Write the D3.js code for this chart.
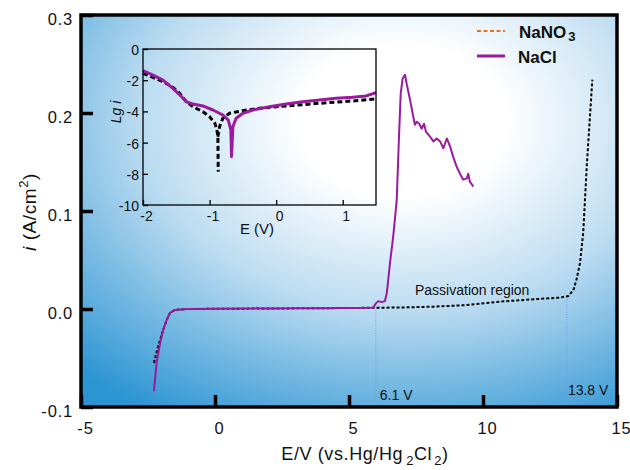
<!DOCTYPE html>
<html><head><meta charset="utf-8">
<script src="https://cdn.jsdelivr.net/npm/d3@7"></script>
<style>body{margin:0;background:#fff;} text{font-family:"Liberation Sans",Arial,sans-serif;fill:#111;}</style>
</head><body><svg id="c" width="630" height="470"></svg>
<script>
// ---------- data ----------
const xTicks = [-5, 0, 5, 10, 15];
const yTicks = [-0.1, 0.0, 0.1, 0.2, 0.3];
const seriesNames = ["NaNO3", "NaCl"];

// main chart: NaCl (purple solid)
const naclE = [-2.28,-2.18,-2.05,-1.93,-1.80,-1.68,-1.49,-1.06,0,1,1.50,1.55,1.62,2,3,3.92,5.0,5.90,6.01,6.09,6.22,6.34,6.41,6.53,6.65,6.78,6.87,6.93,7.00,7.09,7.15,7.28,7.40,7.46,7.53,7.62,7.71,7.80,7.87,8.02,8.15,8.27,8.40,8.52,8.65,8.77,8.89,9.02,9.14,9.26,9.39,9.45,9.51,9.64];
const naclI = [-0.084,-0.055,-0.035,-0.021,-0.011,-0.004,-0.001,0.0,0.0002,0.0004,0.0004,0.0013,0.0004,0.0005,0.0007,0.0008,0.0010,0.0013,0.006,0.008,0.007,0.008,0.016,0.047,0.074,0.111,0.179,0.220,0.235,0.239,0.230,0.213,0.196,0.188,0.191,0.189,0.184,0.189,0.181,0.176,0.171,0.174,0.171,0.164,0.174,0.166,0.155,0.145,0.138,0.132,0.133,0.138,0.130,0.125];

// main chart: NaNO3 (black dotted)
const no3E = [-2.28,-2.12,-1.93,-1.80,-1.68,-1.49,-1.06,0,2,4,6.01,6.90,8.15,9.39,10.63,11.88,12.87,13.18,13.37,13.49,13.62,13.74,13.87,13.99,14.08];
const no3I = [-0.055,-0.038,-0.021,-0.011,-0.004,-0.001,0,0.0002,0.0005,0.0008,0.0013,0.0015,0.0024,0.004,0.0075,0.0099,0.0116,0.0133,0.019,0.030,0.047,0.078,0.145,0.196,0.234];

// guide lines
const guideE = [6.0, 13.13];
const guideI = [0.0013, 0.0125];
const guideLabels = ["6.1 V", "13.8 V"];

// inset: Tafel plots
const insetXTicks = [-2, -1, 0, 1];
const insetYTicks = [0, -2, -4, -6, -8, -10];
const naclInE  = [-2.0,-1.85,-1.70,-1.55,-1.42,-1.35,-1.25,-1.10,-0.95,-0.80,-0.72,-0.68,-0.67,-0.65,-0.60,-0.50,-0.35,-0.10,0.15,0.40,0.65,0.90,1.15,1.35,1.5];
const naclInLg = [-1.39,-1.67,-1.99,-2.52,-3.06,-3.38,-3.53,-3.65,-3.91,-4.23,-4.55,-5.19,-6.9,-4.98,-4.44,-4.12,-3.91,-3.70,-3.53,-3.38,-3.27,-3.16,-3.10,-3.01,-2.80];
const no3InLeftE  = [-2.0,-1.85,-1.70,-1.55,-1.45,-1.35,-1.25,-1.10,-1.0,-0.92,-0.89,-0.875,-0.87];
const no3InLeftLg = [-1.56,-1.82,-2.09,-2.46,-2.84,-3.38,-3.70,-4.02,-4.34,-4.77,-5.19,-5.62,-7.86];
const no3InRightE  = [-0.875,-0.85,-0.80,-0.70,-0.50,-0.25,0.15,0.65,1.15,1.5];
const no3InRightLg = [-5.62,-4.98,-4.44,-4.12,-3.95,-3.80,-3.65,-3.48,-3.33,-3.2];

const zip = (a, b) => a.map((v, k) => [v, b[k]]);

// ---------- setup ----------
const svg = d3.select("#c");
const x = d3.scaleLinear().domain([-5, 15]).range([81, 617]);
const y = d3.scaleLinear().domain([-0.1, 0.3]).range([407, 15]);
const purple = "#9a1a9e";
const FONT = "Liberation Sans, Arial, sans-serif";

const defs = svg.append("defs");
const grad = defs.append("radialGradient").attr("id", "bg")
  .attr("cx", 0.6).attr("cy", 0.27).attr("r", 0.88).attr("fx", 0.6).attr("fy", 0.27);
[[0, "#ffffff"], [0.22, "#ffffff"], [0.55, "#bcdcf1"], [1, "#2b94d3"]].forEach(s =>
  grad.append("stop").attr("offset", s[0]).attr("stop-color", s[1]));

svg.append("rect")
  .attr("x", x(-5)).attr("y", y(0.3))
  .attr("width", x(15) - x(-5)).attr("height", y(-0.1) - y(0.3))
  .attr("fill", "url(#bg)");

// guide lines
guideE.forEach((e, k) => {
  svg.append("line")
    .attr("x1", x(e)).attr("x2", x(e))
    .attr("y1", y(guideI[k])).attr("y2", y(-0.1))
    .attr("stroke", "#6f9fe6").attr("stroke-width", 1).attr("stroke-dasharray", "1,1.5");
});
svg.append("text").attr("x", x(guideE[0]) + 4).attr("y", 400)
  .attr("font-size", 14).text(guideLabels[0]);
svg.append("text").attr("x", x(guideE[1]) + 1).attr("y", 395)
  .attr("font-size", 14).text(guideLabels[1]);
svg.append("text").attr("x", 415).attr("y", 295)
  .attr("font-size", 14).text("Passivation region");

// main curves
const line = d3.line().x(d => x(d[0])).y(d => y(d[1])).curve(d3.curveLinear);
svg.append("path").datum(zip(no3E, no3I)).attr("d", line)
  .attr("fill", "none").attr("stroke", "#000").attr("stroke-width", 2)
  .attr("stroke-dasharray", "3,2");
svg.append("path").datum(zip(naclE, naclI)).attr("d", line)
  .attr("fill", "none").attr("stroke", purple).attr("stroke-width", 2)
  .attr("stroke-linejoin", "round");

// frame
svg.append("rect")
  .attr("x", x(-5)).attr("y", y(0.3))
  .attr("width", x(15) - x(-5)).attr("height", y(-0.1) - y(0.3))
  .attr("fill", "none").attr("stroke", "#000").attr("stroke-width", 3.5);

// axes
const yAxis = svg.append("g").attr("transform", `translate(${x(-5)},0)`)
  .call(d3.axisLeft(y).tickValues(yTicks).tickFormat(d => d.toFixed(1))
    .tickSizeInner(-12).tickSizeOuter(0).tickPadding(8));
yAxis.select(".domain").remove();
yAxis.selectAll(".tick line").attr("stroke", "#000").attr("stroke-width", 3.5);
yAxis.selectAll(".tick text").attr("font-size", 16.5).attr("letter-spacing", 0.8)
  .attr("font-family", FONT).attr("fill", "#111")
  .attr("transform", "translate(0,4)");

const xAxis = svg.append("g").attr("transform", `translate(0,${y(-0.1)})`)
  .call(d3.axisBottom(x).tickValues(xTicks).tickFormat(d => String(d))
    .tickSizeInner(-12).tickSizeOuter(0).tickPadding(15));
xAxis.select(".domain").remove();
xAxis.selectAll(".tick line").attr("stroke", "#000").attr("stroke-width", 3.5);
xAxis.selectAll(".tick text").attr("font-size", 16.5).attr("letter-spacing", 0.8)
  .attr("font-family", FONT).attr("fill", "#111")
  .attr("transform", "translate(4,0)");

// axis titles
const xt = svg.append("text").attr("x", 365).attr("y", 460).attr("text-anchor", "middle")
  .attr("font-size", 18).attr("letter-spacing", 0.6);
xt.append("tspan").text("E/V (vs.Hg/Hg");
xt.append("tspan").attr("font-size", 13).attr("dy", 5).attr("dx", 3).text("2");
xt.append("tspan").attr("dy", -5).text("Cl");
xt.append("tspan").attr("font-size", 13).attr("dy", 5).attr("dx", 2).text("2");
xt.append("tspan").attr("dy", -5).text(")");

const yt = svg.append("text").attr("transform", "translate(36,212) rotate(-90)")
  .attr("text-anchor", "middle").attr("font-size", 19).attr("letter-spacing", 0.6);
yt.append("tspan").attr("font-style", "italic").text("i");
yt.append("tspan").text(" (A/cm");
yt.append("tspan").attr("font-size", 13).attr("dy", -8).text("2");
yt.append("tspan").attr("dy", 8).text(")");

// legend
const lg = svg.append("g");
lg.append("line").attr("x1", 477).attr("x2", 505).attr("y1", 31).attr("y2", 31)
  .attr("stroke", "#e8731c").attr("stroke-width", 2).attr("stroke-dasharray", "4,2.5");
lg.append("line").attr("x1", 477).attr("x2", 505).attr("y1", 56).attr("y2", 56)
  .attr("stroke", purple).attr("stroke-width", 3);
const l1 = lg.append("text").attr("x", 519).attr("y", 38).attr("font-size", 17).attr("font-weight", "bold");
l1.append("tspan").text("NaNO");
l1.append("tspan").attr("font-size", 13).attr("dy", 3).attr("dx", 2).text("3");
lg.append("text").attr("x", 518).attr("y", 63).attr("font-size", 17).attr("font-weight", "bold").text(seriesNames[1]);

// ---------- inset ----------
const ix = d3.scaleLinear().domain([-2, 1.5]).range([143, 376]);
const iy = d3.scaleLinear().domain([-10, 0]).range([205, 49]);
const iline = d3.line().x(d => ix(d[0])).y(d => iy(d[1]));
const ins = svg.append("g");

ins.append("path").datum(zip(no3InLeftE, no3InLeftLg)).attr("d", iline)
  .attr("fill", "none").attr("stroke", "#000").attr("stroke-width", 3).attr("stroke-dasharray", "5,3");
ins.append("path").datum(zip(no3InRightE, no3InRightLg)).attr("d", iline)
  .attr("fill", "none").attr("stroke", "#000").attr("stroke-width", 3).attr("stroke-dasharray", "5,3");
ins.append("path").datum(zip(naclInE, naclInLg)).attr("d", iline)
  .attr("fill", "none").attr("stroke", purple).attr("stroke-width", 3).attr("stroke-linejoin", "round");

ins.append("rect").attr("x", ix(-2)).attr("y", iy(0))
  .attr("width", ix(1.5) - ix(-2)).attr("height", iy(-10) - iy(0))
  .attr("fill", "none").attr("stroke", "#000").attr("stroke-width", 1.3);

const iyAxis = ins.append("g").attr("transform", `translate(${ix(-2)},0)`)
  .call(d3.axisLeft(iy).tickValues(insetYTicks).tickFormat(d => String(d))
    .tickSizeInner(-5).tickSizeOuter(0).tickPadding(4));
iyAxis.select(".domain").remove();
iyAxis.selectAll(".tick line").attr("stroke", "#000").attr("stroke-width", 1.3);
iyAxis.selectAll(".tick text").attr("font-size", 14)
  .attr("font-family", FONT).attr("fill", "#111")
  .attr("transform", "translate(0,1)");

const ixAxis = ins.append("g").attr("transform", `translate(0,${iy(-10)})`)
  .call(d3.axisBottom(ix).tickValues(insetXTicks).tickFormat(d => String(d))
    .tickSizeInner(-5).tickSizeOuter(0).tickPadding(6));
ixAxis.select(".domain").remove();
ixAxis.selectAll(".tick line").attr("stroke", "#000").attr("stroke-width", 1.3);
ixAxis.selectAll(".tick text").attr("font-size", 14)
  .attr("font-family", FONT).attr("fill", "#111")
  .attr("transform", "translate(3,0)");

ins.append("text").attr("x", 257).attr("y", 234).attr("text-anchor", "middle")
  .attr("font-size", 15).text("E (V)");
ins.append("text").attr("transform", "translate(121,112) rotate(-90)")
  .attr("text-anchor", "middle").attr("font-size", 14).attr("font-style", "italic").text("Lg i");
</script></body></html>
